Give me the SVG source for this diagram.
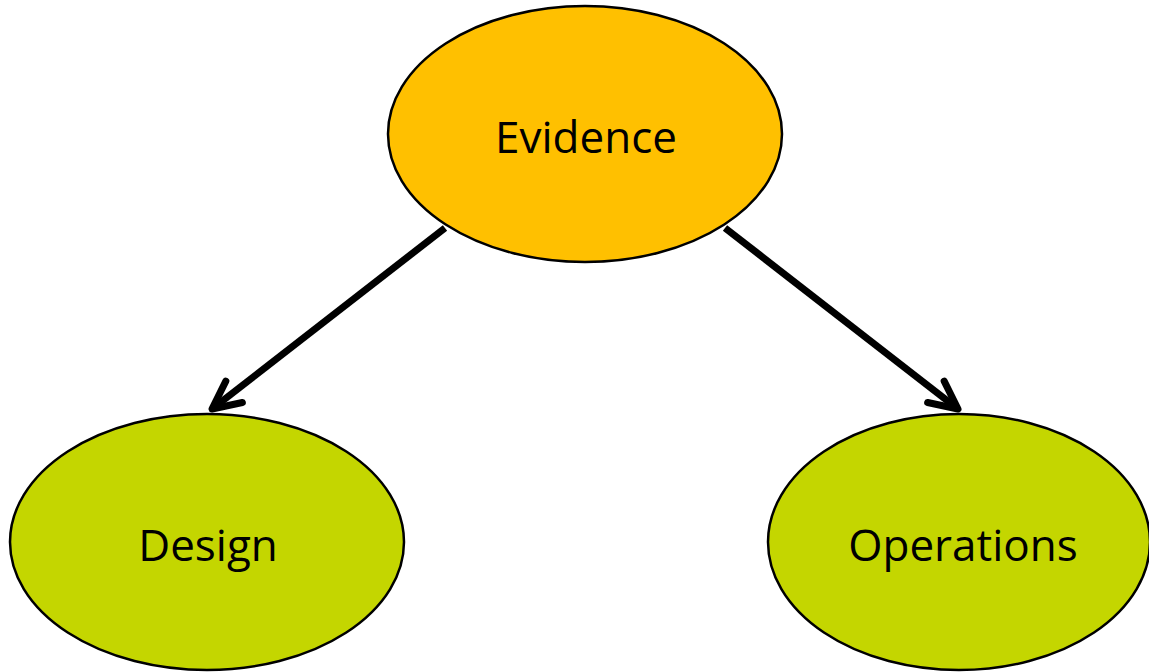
<svg xmlns="http://www.w3.org/2000/svg" width="1149" height="672" viewBox="0 0 1149 672">
<defs>
<style>
.node{stroke:#000;stroke-width:2.5}
.lbl{font-family:"Open Sans","Noto Sans",sans-serif;font-size:44px;fill:#000;text-anchor:middle;dominant-baseline:central}
.edge{stroke:#000;stroke-width:7;fill:none}
</style>
<marker id="arr" markerUnits="userSpaceOnUse" markerWidth="80" markerHeight="80" viewBox="-40 -40 80 80" refX="0" refY="0" orient="auto">
<path d="M -28 -13.5 L 0 0 L -28 13.5" fill="none" stroke="#000" stroke-width="7" stroke-linecap="round" stroke-linejoin="round"/>
</marker>
</defs>
<rect width="1149" height="672" fill="#fff"/>
<g id="connectors">
<line class="edge" x1="445" y1="228" x2="212" y2="409" marker-end="url(#arr)"/>
<line class="edge" x1="725" y1="228" x2="958" y2="409" marker-end="url(#arr)"/>
</g>
<g id="evidence">
<ellipse class="node" cx="585" cy="134" rx="197" ry="128" fill="#FFC000"/>
<text class="lbl" x="586" y="136">Evidence</text>
</g>
<g id="design">
<ellipse class="node" cx="207" cy="542" rx="197" ry="128" fill="#C4D600"/>
<text class="lbl" x="208" y="544">Design</text>
</g>
<g id="operations">
<ellipse class="node" cx="959" cy="542" rx="191" ry="128" fill="#C4D600"/>
<text class="lbl" x="963" y="544">Operations</text>
</g>
</svg>
